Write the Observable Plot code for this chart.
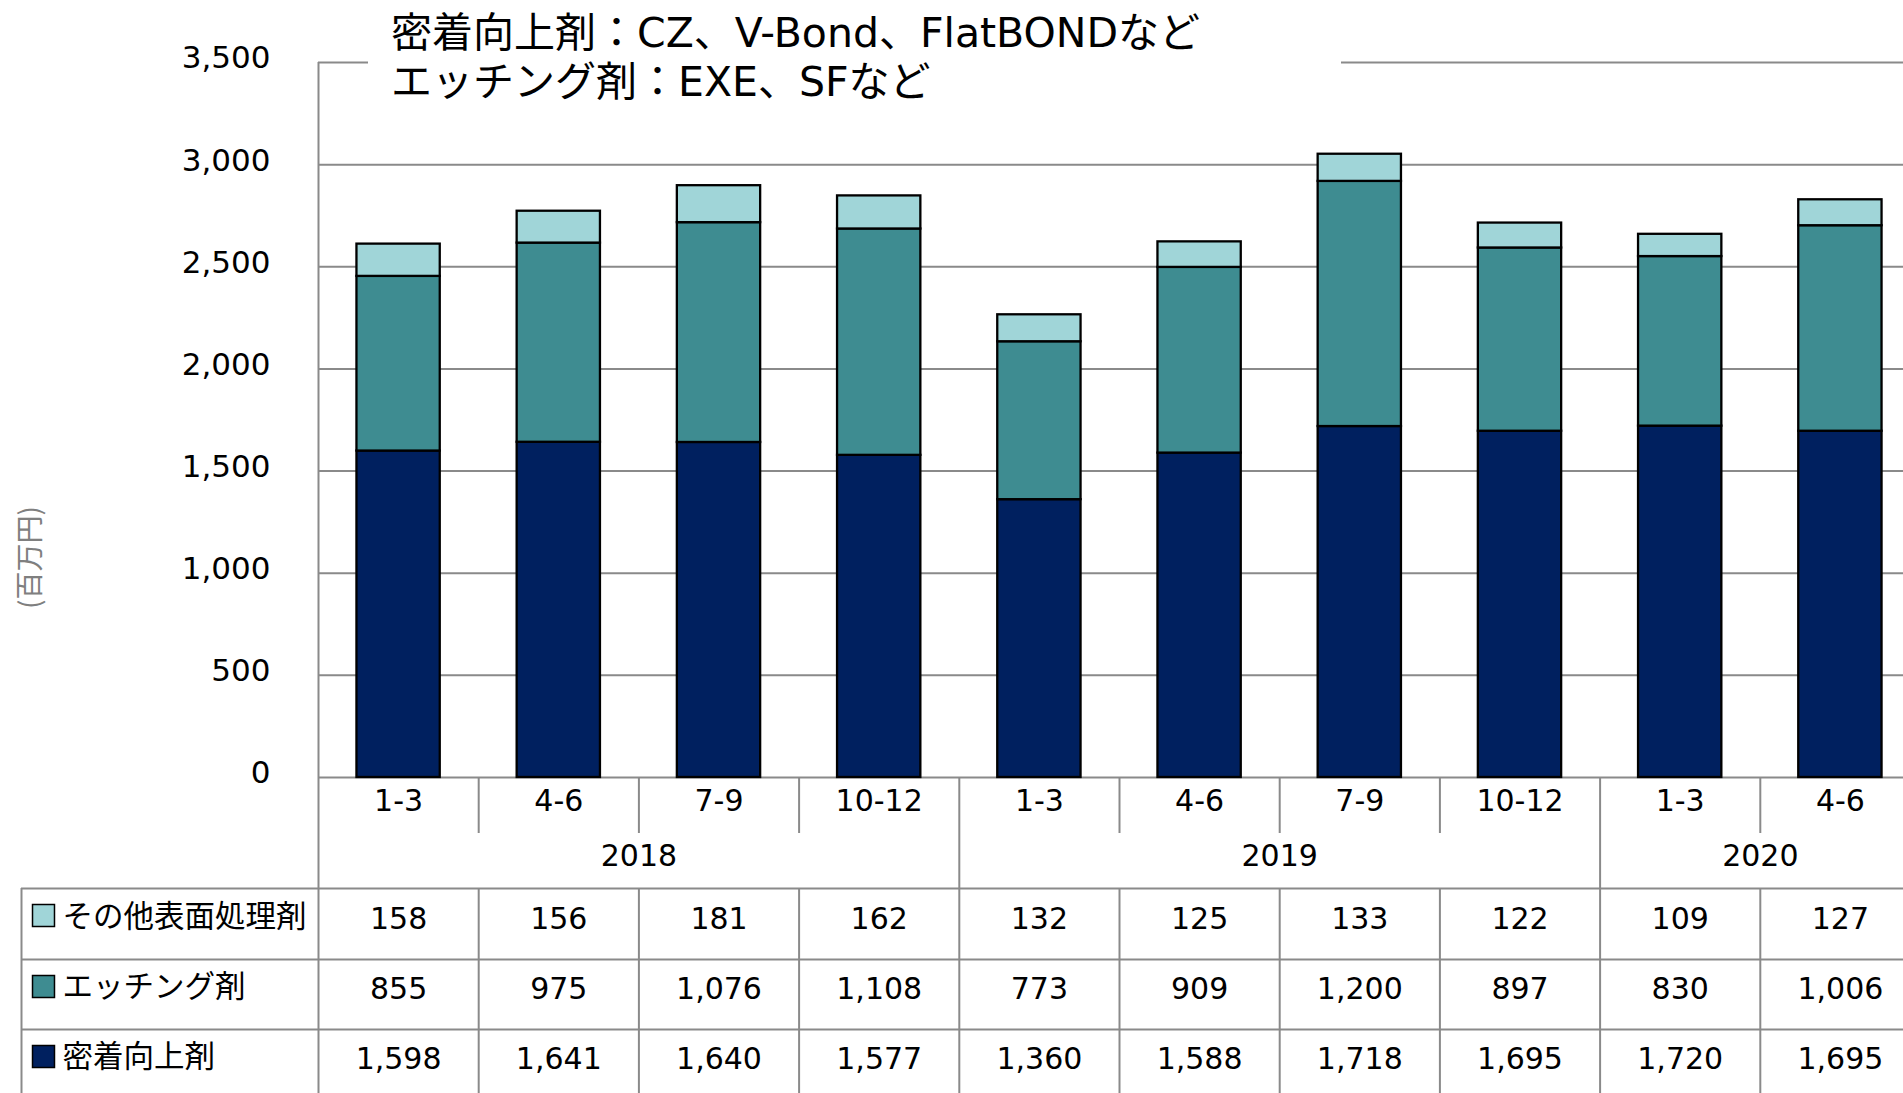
<!DOCTYPE html>
<html><head><meta charset="utf-8">
<script src="https://cdn.jsdelivr.net/npm/d3@7"></script>
<script src="https://cdn.jsdelivr.net/npm/@observablehq/plot@0.6"></script>
<style>
html,body{margin:0;padding:0;background:#fff;overflow:hidden;width:1903px;height:1093px;}
#wrap{position:relative;width:1903px;height:1093px;overflow:hidden;}
#chart{position:absolute;left:0;top:0;width:1920px;}
#chart svg{max-width:none !important;}
#title{position:absolute;left:368px;top:9px;width:973px;box-sizing:border-box;padding-left:23px;background:#fff;
  font-family:"DejaVu Sans","Noto Sans CJK JP",sans-serif;font-size:41px;line-height:49px;color:#000;white-space:nowrap;}
</style></head><body>
<div id="wrap"><div id="chart"></div><div id="title"></div></div>
<script>
// ---- data ----
const periods = ["1-3","4-6","7-9","10-12","1-3","4-6","7-9","10-12","1-3","4-6"];
const years   = ["2018","2018","2018","2018","2019","2019","2019","2019","2020","2020"];
const seriesNames = ["密着向上剤","エッチング剤","その他表面処理剤"];
const adhesion = [1598,1641,1640,1577,1360,1588,1718,1695,1720,1695];
const etching  = [855,975,1076,1108,773,909,1200,897,830,1006];
const other    = [158,156,181,162,132,125,133,122,109,127];
const seriesColors = ["#00205F","#3E8C91","#A0D5D8"];
const yTicks = [0,500,1000,1500,2000,2500,3000,3500];
const yLabel = "(百万円)";
const titleLines = ["密着向上剤：CZ、V-Bond、FlatBONDなど","エッチング剤：EXE、SFなど"];

// ---- layout ----
const W = 1920, H = 1093, ML = 318, MT = 62, BASE = 777, MB = H - BASE;
const YMAX = 3500;
const step = (W - ML) / periods.length;
const py = px => (BASE - px) * YMAX / (BASE - MT); // pixel row -> y units (for table rows below the axis)
const GRID = "#8a8a8a";
const FONT = "'DejaVu Sans', 'Noto Sans CJK JP', sans-serif";
const fmt = d3.format(",");

const keys = periods.map((p, i) => years[i] + " " + p);
const values = [adhesion, etching, other];
const rows = [];
seriesNames.forEach((s, si) => keys.forEach((k, i) => rows.push({key: k, series: s, value: values[si][i]})));

const yearStartIdx = keys.map((k, i) => i).filter(i => i === 0 || years[i] !== years[i - 1]);
const innerKeys = keys.filter((k, i) => !yearStartIdx.includes(i));
const yearBoundaryKeys = yearStartIdx.slice(1).map(i => keys[i]);
const yearLabels = yearStartIdx.map((start, j) => {
  const end = j + 1 < yearStartIdx.length ? yearStartIdx[j + 1] : keys.length;
  return {year: years[start], mid: keys[start + (end - start) / 2]};
});

// table rows: top to bottom
const tableRows = [
  {series: "その他表面処理剤", dy: 142, sq: 138},
  {series: "エッチング剤", dy: 212, sq: 209},
  {series: "密着向上剤", dy: 282, sq: 279}
];
const colorOf = s => seriesColors[seriesNames.indexOf(s)];

const marks = [
  Plot.ruleY(yTicks, {stroke: GRID, strokeWidth: 2}),
  Plot.barY(rows, {x: "key", y: "value", fill: "series", order: seriesNames, stroke: "black", strokeWidth: 2.3}),
  Plot.axisY(yTicks, {tickSize: 0, tickPadding: 48, fontSize: 31, tickFormat: fmt, dy: -4, label: null}),
  Plot.axisX(keys, {tickSize: 0, tickPadding: 12, fontSize: 30, tickFormat: k => k.split(" ")[1], label: null}),
  // y-axis line (continues down through table)
  Plot.ruleX([keys[0]], {x: d => d, dx: -step / 2, y1: YMAX, y2: py(H), stroke: GRID, strokeWidth: 2}),
  // separators in quarter row
  Plot.ruleX(innerKeys, {x: d => d, dx: -step / 2, y1: 0, y2: py(833), stroke: GRID, strokeWidth: 2}),
  // year boundaries
  Plot.ruleX(yearBoundaryKeys, {x: d => d, dx: -step / 2, y1: 0, y2: py(H), stroke: GRID, strokeWidth: 2}),
  // table inner separators
  Plot.ruleX(innerKeys, {x: d => d, dx: -step / 2, y1: py(888), y2: py(H), stroke: GRID, strokeWidth: 2}),
  // table horizontal lines
  Plot.ruleY([py(888), py(959), py(1029)], {insetLeft: -(ML - 21), stroke: GRID, strokeWidth: 2}),
  // table left border
  Plot.ruleX([keys[0]], {x: d => d, dx: -step / 2 - (ML - 21), y1: py(888), y2: py(H), stroke: GRID, strokeWidth: 2}),
  // year labels
  Plot.text(yearLabels, {x: "mid", text: "year", frameAnchor: "bottom", lineAnchor: "middle", dx: -step / 2, dy: 79, fontSize: 30}),
  // y title
  Plot.text([yLabel], {text: d => d, frameAnchor: "left", textAnchor: "middle", lineAnchor: "middle", dx: 31 - ML, dy: 557 - (MT + BASE) / 2, rotate: -90, fontSize: 28, fill: "#7f7f7f", fontFamily: "'Noto Sans CJK JP', sans-serif"})
];

tableRows.forEach(r => {
  marks.push(Plot.text(rows.filter(d => d.series === r.series), {x: "key", text: d => fmt(d.value), frameAnchor: "bottom", lineAnchor: "middle", dy: r.dy, fontSize: 30}));
  marks.push(Plot.text([r.series], {text: d => d, frameAnchor: "bottom-left", lineAnchor: "middle", dx: 62 - ML, dy: r.dy - 2, textAnchor: "start", fontSize: 30.5, fontFamily: "'Noto Sans CJK JP', sans-serif"}));
  marks.push(Plot.dot([r.series], {frameAnchor: "bottom-left", dx: 43 - ML, dy: r.sq, symbol: "square", r: 12.4, fill: colorOf(r.series), stroke: "black", strokeWidth: 1.5}));
});

const chart = Plot.plot({
  width: W, height: H, marginTop: MT, marginLeft: ML, marginRight: 0, marginBottom: MB,
  x: {domain: keys, paddingInner: 0.48, paddingOuter: 0.24, round: false, axis: null},
  y: {domain: [0, YMAX], axis: null},
  color: {domain: seriesNames, range: seriesColors},
  style: {fontFamily: FONT, background: "white", color: "black", maxWidth: "none"},
  marks
});
document.getElementById("chart").appendChild(chart);
document.getElementById("title").innerHTML = titleLines.map(t => `<div>${t}</div>`).join("");
</script>
</body></html>
